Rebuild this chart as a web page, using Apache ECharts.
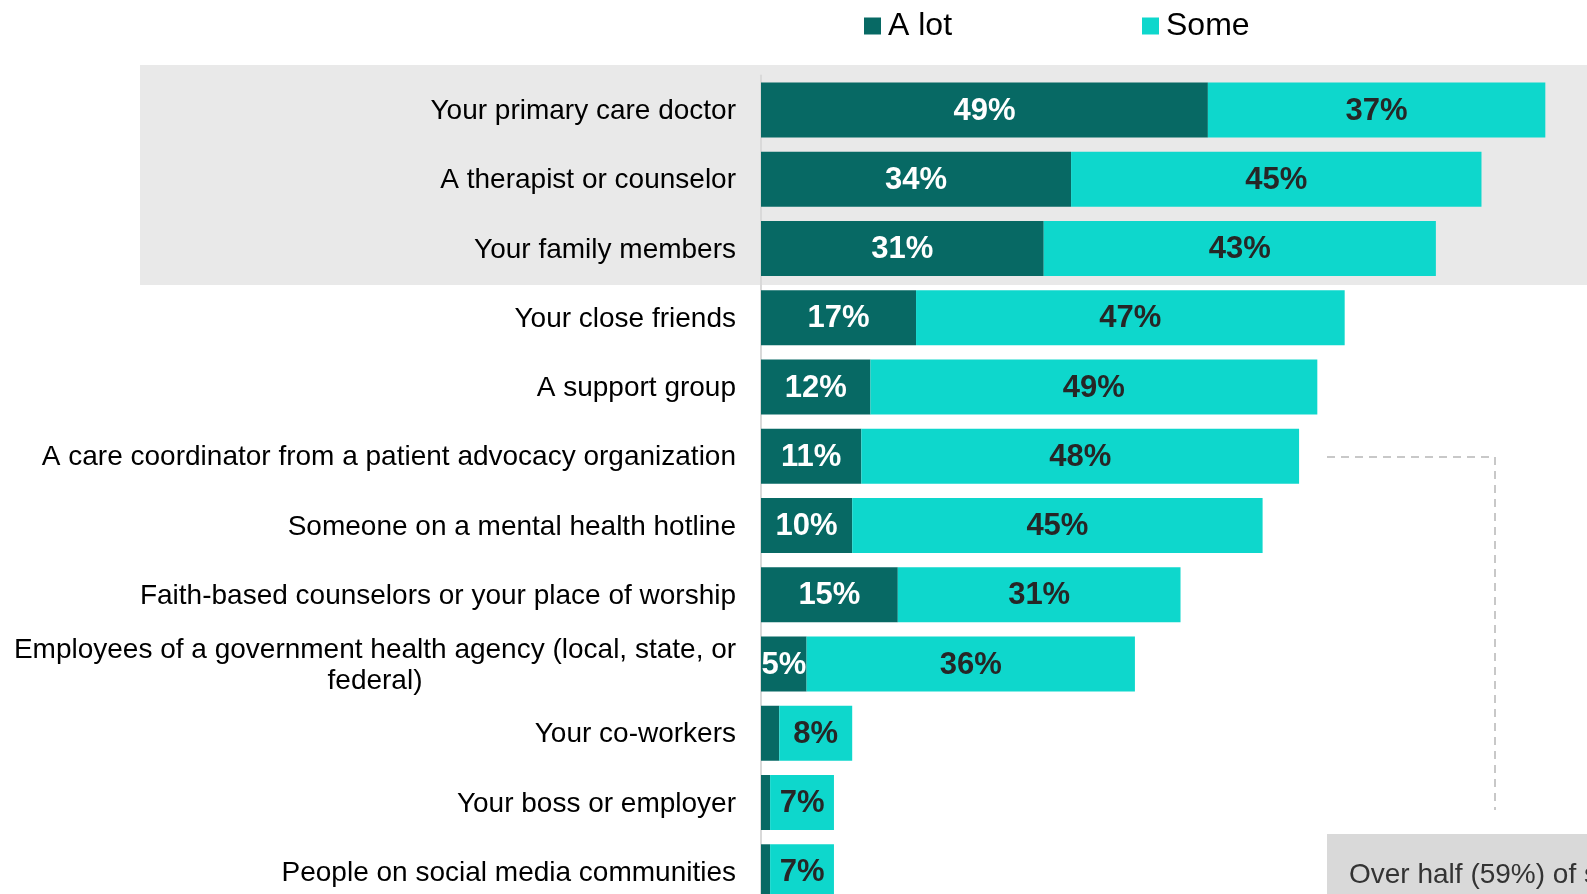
<!DOCTYPE html>
<html>
<head>
<meta charset="utf-8">
<script src="https://cdn.jsdelivr.net/npm/echarts@6/dist/echarts.min.js"></script>
<style>
html,body{margin:0;padding:0;background:#fff;}
#chart{width:1587px;height:894px;}
</style>
</head>
<body>
<div id="chart"></div>
<script>
const categories = [
  "Your primary care doctor",
  "A therapist or counselor",
  "Your family members",
  "Your close friends",
  "A support group",
  "A care coordinator from a patient advocacy organization",
  "Someone on a mental health hotline",
  "Faith-based counselors or your place of worship",
  "Employees of a government health agency (local, state, or\nfederal)",
  "Your co-workers",
  "Your boss or employer",
  "People on social media communities"
];
const aLot = [49, 34, 31, 17, 12, 11, 10, 15, 5, 2, 1, 1];
const some = [37, 45, 43, 47, 49, 48, 45, 31, 36, 8, 7, 7];
const seriesNames = ["A lot", "Some"];
const noteText = "Over half (59%) of surveyed adults";

const FONT = "'Liberation Sans', Arial, sans-serif";
const DARK = "#076964";
const CYAN = "#0ed7cc";

const chart = echarts.init(document.getElementById('chart'), null, {renderer: 'canvas'});

function valueLabel(color) {
  return {
    show: true,
    position: 'inside',
    offset: [0, 1],
    fontFamily: FONT,
    fontSize: 31,
    fontWeight: 'bold',
    color: color,
    formatter: p => (p.value < 3 ? '' : p.value + '%')
  };
}

const option = {
  animation: false,
  backgroundColor: '#ffffff',
  textStyle: {fontFamily: FONT},
  legend: [
    {
      left: 859, top: 5,
      data: [seriesNames[0]],
      icon: 'rect', itemWidth: 17, itemHeight: 17,
      textStyle: {fontFamily: FONT, fontSize: 32, color: '#000', padding: [0, 0, 0, 2]}
    },
    {
      left: 1137, top: 5,
      data: [seriesNames[1]],
      icon: 'rect', itemWidth: 17, itemHeight: 17,
      textStyle: {fontFamily: FONT, fontSize: 32, color: '#000', padding: [0, 0, 0, 2]}
    }
  ],
  grid: {left: 761, top: 75.4, width: 912, height: 831, containLabel: false, outerBoundsMode: 'none'},
  xAxis: {
    type: 'value', min: 0, max: 100, show: false
  },
  yAxis: {
    type: 'category',
    data: categories,
    inverse: true,
    offset: 1,
    axisLine: {show: true, lineStyle: {color: '#d9d9d9', width: 2}},
    axisTick: {show: false},
    splitLine: {show: false},
    axisLabel: {
      margin: 24,
      padding: [3, 0, 0, 0],
      fontFamily: FONT,
      fontSize: 28,
      color: '#000000',
      lineHeight: 31,
      formatter: function (v) {
        if (v.indexOf('\n') >= 0) {
          return v.split('\n').map(s => '{w|' + s + '}').join('\n');
        }
        return v;
      },
      rich: {
        w: {width: 722, align: 'center', fontFamily: FONT, fontSize: 28, color: '#000000', lineHeight: 31}
      }
    }
  },
  graphic: [
    {
      type: 'rect', z: -10, silent: true,
      shape: {x: 140, y: 65, width: 1447, height: 220},
      style: {fill: '#e9e9e9'}
    },
    {
      type: 'polyline', z: 10, silent: true,
      shape: {points: [[1327, 457], [1495, 457], [1495, 810]]},
      style: {stroke: '#c8c8c8', lineWidth: 2, lineDash: [8, 6], fill: null}
    },
    {
      type: 'rect', z: 10, silent: true,
      shape: {x: 1327, y: 834, width: 260, height: 60},
      style: {fill: '#d9d9d9'}
    },
    {
      type: 'text', z: 11, silent: true,
      x: 1349, y: 875,
      style: {text: noteText, fontFamily: FONT, fontSize: 28, fill: '#333333', verticalAlign: 'middle', align: 'left'}
    }
  ],
  series: [
    {
      name: seriesNames[0], type: 'bar', stack: 'total',
      data: aLot, barWidth: 55,
      itemStyle: {color: DARK},
      label: valueLabel('#ffffff')
    },
    {
      name: seriesNames[1], type: 'bar', stack: 'total',
      data: some, barWidth: 55,
      itemStyle: {color: CYAN},
      label: valueLabel('#262626')
    }
  ]
};
chart.setOption(option);
</script>
</body>
</html>
